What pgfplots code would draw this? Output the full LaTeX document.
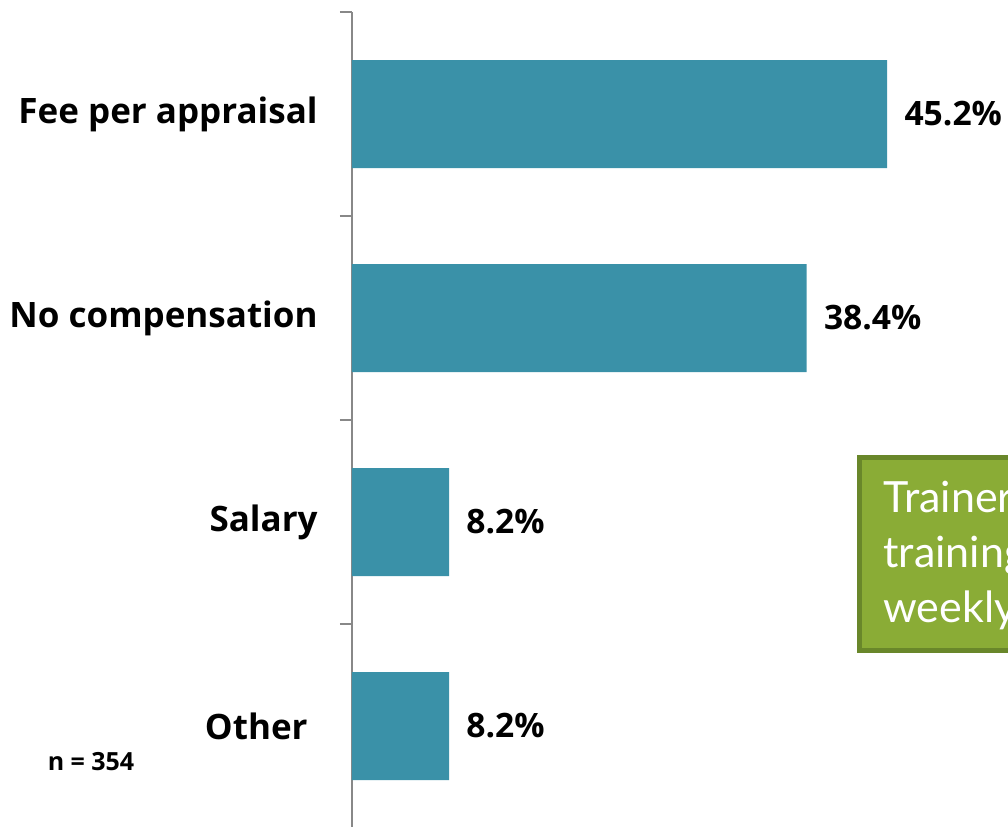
\documentclass[border=0pt]{standalone}
\usepackage{pgfplots}
\pgfplotsset{compat=1.18}
\usepackage{fontspec}
\setmainfont{Lato}
\newfontfamily\labfont{Open Sans}
\definecolor{barblue}{RGB}{58,145,168}
\definecolor{axgray}{RGB}{136,136,136}
\definecolor{boxfill}{RGB}{138,172,54}
\definecolor{boxedge}{RGB}{105,135,42}
\begin{document}
\begin{tikzpicture}
\useasboundingbox (0,0) rectangle (504pt,413pt);
\clip (0,0) rectangle (504pt,413pt);
\begin{axis}[
  at={(176pt,-1pt)}, anchor=south west,
  scale only axis, width=355.2pt, height=408pt,
  xbar, bar width=54pt,
  xmin=0, xmax=60, ymin=-0.5, ymax=3.5,
  y dir=reverse,
  axis x line=none,
  axis y line*=left,
  axis line style={axgray, line width=1pt},
  ytick={0,1,2,3},
  yticklabels={Fee per appraisal, No compensation, Salary, Other\hbox to 5pt{}},
  major tick length=0pt,
  extra y ticks={-0.5,0.5,1.5,2.5,3.5},
  extra y tick labels={},
  extra y tick style={major tick length=6pt, tick align=outside, tick style={axgray, line width=1pt}},
  yticklabel style={font=\labfont\fontsize{17.5}{21}\selectfont\bfseries, inner sep=0pt, xshift=-17pt, anchor=east},
  point meta=x,
  nodes near coords={\pgfmathprintnumber[fixed,precision=1,fixed zerofill,assume math mode=true]{\pgfplotspointmeta}\%},
  nodes near coords style={font=\labfont\fontsize{16.8}{20}\selectfont\bfseries, anchor=west, inner sep=0pt, xshift=8.5pt},
  clip=false,
]
\addplot[fill=barblue, draw=none] coordinates {(45.2,0) (38.4,1) (8.2,2) (8.2,3)};
\end{axis}
\draw[boxedge, line width=2.5pt, fill=boxfill] (429.75pt,87.75pt) rectangle (520pt,184.25pt);
\node[anchor=base west, inner sep=0pt, text=white, font=\fontsize{21.5}{27}\selectfont] at (441.5pt,156.5pt) {Trainers};
\node[anchor=base west, inner sep=0pt, text=white, font=\fontsize{21.5}{27}\selectfont] at (441.5pt,129pt) {training};
\node[anchor=base west, inner sep=0pt, text=white, font=\fontsize{21.5}{27}\selectfont] at (441.5pt,102pt) {weekly};
\node[anchor=center, inner sep=0pt, font=\labfont\fontsize{12.5}{15}\selectfont\bfseries] at (45.5pt,32pt) {n = 354};
\end{tikzpicture}
\end{document}
